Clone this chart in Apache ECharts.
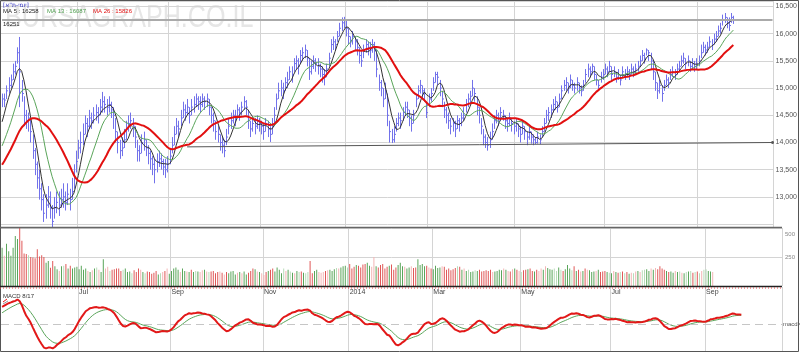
<!DOCTYPE html>
<html>
<head>
<meta charset="utf-8">
<script src="https://cdn.jsdelivr.net/npm/echarts@6/dist/echarts.min.js"></script>
<style>
  html, body { margin: 0; padding: 0; background: #fff; }
  #chart { width: 800px; height: 352px; }
</style>
</head>
<body>
<div id="chart"></div>
<script>
// number of day slots on the time axis (data stops before the right edge)
const SLOTS = 355;
const monthNames = ['Jul', 'Sep', 'Nov', '2014', 'Mar', 'May', 'Jul', 'Sep'];
const monthStarts = [35, 77, 119, 158, 196, 236, 277, 320];

// closes before the first visible bar, only used to warm up the indicators
const priorCloses = [13100,13050,13150,13200,13150,13250,13300,13200,13250,13350,13300,13400,13450,
  13500,13550,13600,13650,13600,13700,13800,13900,14050,14150,14350,14550];

const closes = [
  14800,14780,14950,15050,15150,15300,15400,15650,15300,14900,
  14500,14400,14450,14200,13850,13600,13350,13150,12950,12700,
  12850,13000,12800,12550,12800,12900,12850,12950,13000,12900,
  13050,12950,13100,13350,13650,13900,14000,14150,14350,14300,
  14450,14400,14500,14550,14500,14650,14750,14700,14650,14700,
  14600,14500,14200,14000,13850,13900,14050,14250,14350,14400,
  14300,14100,13850,13800,14000,14050,13900,13800,13700,13600,
  13500,13650,13700,13650,13550,13500,13600,13750,13950,14150,
  14300,14250,14450,14600,14550,14650,14500,14650,14700,14800,
  14750,14700,14800,14750,14800,14650,14500,14400,14200,14150,
  14000,13950,13850,14100,14300,14400,14500,14450,14600,14550,
  14650,14750,14650,14400,14250,14350,14300,14400,14350,14300,
  14200,14350,14250,14150,14300,14500,14800,14950,15000,14950,
  15100,15150,15300,15250,15450,15500,15400,15600,15650,15700,
  15550,15300,15400,15500,15450,15400,15350,15250,15200,15350,
  15550,15800,15850,15800,15950,16100,16200,16250,16100,15950,
  15850,15950,15850,15750,15600,15500,15700,15800,15750,15700,
  15800,15700,15350,15100,15000,14800,14950,14500,14200,14050,
  14150,14350,14450,14400,14550,14650,14600,14450,14350,14500,
  14800,14950,15050,14950,14900,14550,14800,14900,15100,15250,
  15200,15000,14800,14600,14500,14400,14300,14350,14250,14400,
  14350,14450,14500,14700,14800,14850,15000,14900,14650,14500,
  14300,14100,14000,13950,14050,14200,14400,14500,14450,14550,
  14500,14400,14350,14450,14350,14300,14350,14250,14150,14300,
  14200,14100,14200,14100,14050,14000,14100,14050,14200,14350,
  14500,14550,14600,14700,14750,14650,14800,14950,15050,15100,
  15000,15150,15050,15000,15100,15000,14950,15050,15250,15350,
  15300,15400,15250,15150,15050,15200,15250,15350,15300,15400,
  15250,15300,15200,15250,15150,15300,15250,15300,15250,15350,
  15300,15350,15400,15500,15600,15550,15700,15650,15500,15300,
  15100,14950,15050,14900,15050,15150,15100,15250,15300,15250,
  15350,15400,15500,15550,15450,15500,15400,15450,15400,15450,
  15500,15650,15750,15700,15750,15850,15800,15900,15950,16050,
  16100,16250,16300,16200,16150,16300,16260
];

const highs = [
  14900,14900,15050,15200,15250,15450,15500,15750,15940,15150,
  14850,14600,14550,14450,14150,13900,13650,13500,13250,13050,
  13050,13200,13100,12850,13000,13100,13100,13150,13250,13100,
  13250,13150,13350,13600,13850,14050,14200,14350,14500,14450,
  14600,14550,14650,14700,14650,14800,14930,14850,14800,14850,
  14750,14650,14450,14200,14050,14100,14250,14400,14500,14550,
  14450,14300,14050,13950,14150,14200,14050,13950,13850,13750,
  13700,13800,13850,13800,13700,13700,13750,13900,14100,14300,
  14450,14400,14600,14750,14700,14800,14650,14800,14850,14900,
  14850,14850,14900,14850,14900,14800,14650,14550,14400,14300,
  14150,14100,14050,14250,14450,14550,14600,14600,14700,14650,
  14750,14850,14780,14600,14400,14450,14450,14500,14450,14400,
  14350,14450,14400,14300,14450,14650,14900,15100,15150,15100,
  15200,15300,15400,15400,15550,15600,15550,15700,15750,15800,
  15700,15550,15500,15600,15550,15550,15450,15400,15350,15450,
  15650,15900,15950,15900,16050,16200,16300,16310,16250,16100,
  15950,16050,15950,15900,15750,15700,15800,15900,15850,15850,
  15900,15850,15700,15250,15150,15000,15100,14900,14400,14250,
  14300,14450,14550,14550,14650,14750,14750,14600,14500,14600,
  14900,15050,15150,15050,15000,14750,14900,15000,15200,15300,
  15300,15150,14950,14750,14650,14550,14450,14450,14400,14500,
  14450,14550,14650,14800,14900,14950,15150,15000,14850,14650,
  14450,14250,14150,14100,14200,14350,14500,14600,14550,14650,
  14600,14500,14450,14550,14450,14400,14450,14350,14300,14400,
  14300,14200,14300,14200,14150,14100,14200,14150,14300,14450,
  14600,14650,14700,14800,14850,14750,14900,15050,15150,15200,
  15100,15250,15150,15100,15200,15100,15050,15150,15350,15450,
  15400,15450,15400,15250,15150,15300,15350,15450,15400,15500,
  15400,15400,15300,15350,15250,15400,15350,15400,15350,15450,
  15400,15450,15500,15600,15700,15650,15730,15700,15650,15500,
  15300,15100,15150,15050,15150,15250,15200,15350,15400,15350,
  15450,15500,15600,15650,15550,15600,15500,15550,15500,15550,
  15600,15800,15850,15800,15850,15950,15900,16000,16050,16150,
  16200,16350,16380,16300,16300,16380,16330
];

const lows = [
  14650,14650,14800,14900,15000,15150,15250,15450,14650,14750,
  14300,14250,14200,14000,13700,13400,13150,12950,12750,12540,
  12600,12800,12600,12430,12600,12700,12650,12800,12800,12750,
  12850,12750,12950,13150,13450,13700,13800,13950,14150,14100,
  14250,14250,14350,14400,14350,14500,14550,14550,14500,14550,
  14450,14250,14000,13800,13700,13750,13900,14050,14200,14250,
  14100,13900,13650,13650,13800,13850,13750,13600,13500,13400,
  13250,13450,13550,13500,13400,13350,13450,13600,13800,13950,
  14150,14100,14300,14450,14400,14500,14350,14500,14550,14650,
  14600,14550,14650,14600,14650,14500,14350,14200,14050,14000,
  13850,13800,13730,13950,14150,14250,14350,14300,14450,14400,
  14500,14600,14500,14250,14100,14200,14150,14250,14200,14150,
  14050,14200,14100,14010,14150,14300,14600,14800,14850,14800,
  14950,15000,15150,15100,15300,15350,15250,15450,15500,15550,
  15400,15150,15250,15350,15300,15250,15200,15100,15050,15200,
  15400,15650,15700,15700,15850,15950,16050,16100,15950,15800,
  15750,15800,15700,15600,15450,15390,15550,15650,15600,15550,
  15650,15500,15200,14950,14850,14650,14800,14300,14000,13990,
  14000,14200,14300,14250,14400,14500,14450,14300,14200,14350,
  14650,14800,14900,14800,14750,14450,14650,14750,14950,15100,
  15050,14850,14650,14450,14350,14250,14150,14200,14100,14250,
  14200,14300,14400,14550,14650,14700,14850,14750,14500,14350,
  14150,13950,13900,13850,13900,14050,14250,14350,14300,14400,
  14400,14250,14200,14300,14200,14150,14200,14100,14000,14150,
  14050,13950,14050,13980,13950,13970,13980,13970,14100,14200,
  14350,14400,14450,14550,14600,14550,14650,14800,14950,14950,
  14900,15000,14950,14900,14950,14900,14850,14950,15100,15200,
  15200,15250,15150,15050,14950,15100,15150,15250,15200,15300,
  15150,15200,15100,15150,15050,15200,15150,15200,15150,15250,
  15200,15250,15300,15400,15500,15450,15600,15500,15350,15150,
  14950,14800,14900,14750,14950,15050,15000,15150,15200,15150,
  15250,15300,15400,15450,15350,15400,15300,15350,15300,15350,
  15400,15550,15650,15600,15650,15750,15700,15800,15850,15950,
  16000,16150,16200,16100,16050,16200,16180
];

// volume (last two weeks have no volume bars)
const volumes = [
  330,260,365,300,260,330,431,405,500,390,
  280,275,265,250,245,240,316,255,265,250,
  200,215,158,216,170,144,129,170,175,190,
  150,175,150,160,165,145,175,140,150,130,
  120,135,150,160,140,120,230,150,165,130,
  140,145,150,150,130,140,150,120,125,110,
  135,120,150,140,120,110,125,120,105,115,
  130,100,110,120,130,150,105,130,150,160,
  140,120,150,130,125,120,140,120,130,125,
  120,135,140,125,120,125,130,110,120,125,
  115,100,120,110,125,130,100,115,120,110,
  125,100,115,130,150,145,125,120,110,95,
  120,130,140,150,125,160,140,110,150,130,
  140,125,115,110,130,120,125,115,110,120,
  215,110,130,140,120,115,120,130,135,140,
  130,145,155,150,160,170,175,160,190,150,
  165,180,175,160,185,190,200,175,165,250,
  170,160,180,190,150,165,175,185,140,160,
  180,200,170,165,150,160,170,155,160,230,
  180,190,170,175,160,150,145,175,155,160,
  170,165,140,150,135,145,155,170,165,140,
  150,130,140,120,125,135,130,140,125,130,
  135,130,140,120,125,130,140,135,150,140,
  130,125,145,150,140,130,120,135,140,145,
  150,130,125,140,130,150,140,170,155,145,
  140,150,130,160,140,130,145,180,150,135,
  170,130,140,125,130,150,140,135,120,125,
  130,140,120,125,130,120,115,110,130,120,
  115,120,125,110,120,105,115,110,125,130,
  120,135,140,145,130,150,140,155,145,170,
  150,140,130,120,125,115,130,120,125,115,
  110,120,125,130,115,120,125,110,130,140,
  145,130,125,120
];

const maPeriods = [5, 13, 26];
const maLegend = [16258, 16087, 15826];
const levelValue = 16251;
const trendFrom = [85, 13920];
const trendTo = [354, 14000];
const macdFast = 8, macdSlow = 17, macdSignal = 9;

// ---- indicators ----
const allCloses = priorCloses.concat(closes);
const skip = priorCloses.length;

function movingAverage(arr, n) {
    const out = [];
    for (let i = 0; i < arr.length; i++) {
        const from = Math.max(0, i - n + 1);
        let s = 0;
        for (let j = from; j <= i; j++) s += arr[j];
        out.push(Math.round(s / (i - from + 1)));
    }
    return out;
}

function ema(arr, n) {
    const k = 2 / (n + 1);
    const out = [arr[0]];
    for (let i = 1; i < arr.length; i++) out.push(arr[i] * k + out[i - 1] * (1 - k));
    return out;
}

const maLines = maPeriods.map(p => movingAverage(allCloses, p).slice(skip));
const fast = ema(allCloses, macdFast), slow = ema(allCloses, macdSlow);
const macdAll = fast.map((v, i) => v - slow[i]);
const signalAll = ema(macdAll, macdSignal);
const macd = macdAll.slice(skip);
const signal = signalAll.slice(skip);
const macdMax = Math.max(...macd.map(Math.abs));

const categories = Array.from({ length: SLOTS }, (_, i) => String(i));

function volColor(i) {
    const prev = i === 0 ? priorCloses[priorCloses.length - 1] : closes[i - 1];
    const diff = closes[i] - prev;
    if (diff >= 0) return Math.abs(diff) < 60 ? '#b9dcb9' : '#5aa55a';
    return Math.abs(diff) < 60 ? '#f3b5b5' : '#e05858';
}

const isMonth = (idx) => monthStarts.indexOf(idx) >= 0;
const splitGrey = { show: true, interval: isMonth, lineStyle: { color: '#d4d4d4', width: 1 } };

function timeAxis(gridIndex, withLabels) {
    return {
        type: 'category', gridIndex: gridIndex, data: categories, boundaryGap: true,
        axisLine: { show: false }, axisTick: { show: false },
        splitLine: splitGrey,
        axisLabel: withLabels ? {
            show: true, interval: isMonth, align: 'left', margin: 3,
            fontSize: 7, color: '#444', fontFamily: 'Liberation Sans',
            formatter: (v, idx) => monthNames[monthStarts.indexOf(Number(v))] || ''
        } : { show: false }
    };
}

const chart = echarts.init(document.getElementById('chart'));
const font = 'Liberation Sans';

const option = {
    animation: false,
    backgroundColor: '#fff',
    grid: [
        { left: 1, right: 18, top: 1, height: 226 },
        { left: 1, right: 18, top: 228, height: 58 },
        { left: 1, right: 18, top: 287, height: 64 }
    ],
    xAxis: [timeAxis(0, false), timeAxis(1, true), timeAxis(2, false)],
    yAxis: [
        {
            type: 'value', gridIndex: 0, position: 'right', min: 12447, max: 16601, splitNumber: 8,
            axisLine: { show: false }, axisTick: { show: false },
            splitLine: { lineStyle: { color: '#d4d4d4' } },
            axisLabel: {
                margin: 2, fontSize: 7, color: '#555', fontFamily: font,
                formatter: v => (v % 500 === 0 && v >= 13000) ? v.toLocaleString('en-US') : ''
            }
        },
        {
            type: 'value', gridIndex: 1, position: 'right', min: 0, max: 500, interval: 250,
            axisLine: { show: false }, axisTick: { show: false },
            splitLine: { lineStyle: { color: '#d4d4d4' } },
            axisLabel: {
                margin: 3, fontSize: 6, color: '#888', fontFamily: font,
                formatter: v => v === 0 ? '' : (v === 500 ? '{t|500}' : String(v)),
                rich: { t: { fontSize: 6, color: '#888', padding: [12, 0, 0, 0] } }
            }
        },
        {
            type: 'value', gridIndex: 2, position: 'right',
            min: -macdMax * 1.1, max: macdMax * 1.51,
            axisLine: { show: false }, axisTick: { show: false },
            splitLine: { show: false }, axisLabel: { show: false }
        }
    ],
    series: [
        {
            name: 'price', type: 'custom', xAxisIndex: 0, yAxisIndex: 0, z: 3,
            data: closes.map((c, i) => [i, c, highs[i], lows[i]]),
            encode: { x: 0, y: [1, 2, 3] },
            renderItem: (params, api) => {
                const i = api.value(0);
                const pc = api.coord([i, api.value(1)]);
                const ph = api.coord([i, api.value(2)]);
                const pl = api.coord([i, api.value(3)]);
                const x = Math.round(pc[0]) + 0.5;
                const st = { stroke: '#7272ea', lineWidth: 1 };
                return {
                    type: 'group', children: [
                        { type: 'line', shape: { x1: x, y1: ph[1], x2: x, y2: pl[1] }, style: st },
                        { type: 'line', shape: { x1: x, y1: pc[1], x2: x + 1.5, y2: pc[1] }, style: st }
                    ]
                };
            },
            markLine: {
                silent: true, symbol: 'none', animation: false,
                label: { show: false },
                data: [
                    [{ xAxis: 0, yAxis: levelValue, lineStyle: { color: '#aaaaaa', width: 2, type: 'solid' } },
                     { xAxis: SLOTS - 1, yAxis: levelValue }],
                    [{ coord: trendFrom, lineStyle: { color: '#555', width: 1, type: 'solid' } },
                     { coord: trendTo, symbol: 'circle', symbolSize: 3 }]
                ]
            }
        },
        {
            name: 'MA 5', type: 'line', xAxisIndex: 0, yAxisIndex: 0, z: 4, data: maLines[0],
            showSymbol: false, lineStyle: { color: '#333', width: 1 }
        },
        {
            name: 'MA 13', type: 'line', xAxisIndex: 0, yAxisIndex: 0, z: 4, data: maLines[1],
            showSymbol: false, lineStyle: { color: '#5aa55a', width: 1 }
        },
        {
            name: 'MA 26', type: 'line', xAxisIndex: 0, yAxisIndex: 0, z: 5, data: maLines[2],
            showSymbol: false, lineStyle: { color: '#e21010', width: 2 }
        },
        {
            name: 'volume', type: 'bar', xAxisIndex: 1, yAxisIndex: 1, barWidth: 1,
            data: volumes.map((v, i) => ({ value: v, itemStyle: { color: volColor(i) } }))
        },
        {
            name: 'MACD', type: 'line', xAxisIndex: 2, yAxisIndex: 2, z: 5, data: macd,
            showSymbol: false, lineStyle: { color: '#e21818', width: 2 },
            markLine: {
                silent: true, symbol: 'none', animation: false,
                data: [{ yAxis: 0 }],
                lineStyle: { color: '#c6c6c6', type: [8, 5], width: 1 },
                label: { show: true, position: 'end', formatter: 'macd=0', fontSize: 6, color: '#555', distance: 1, fontFamily: font }
            }
        },
        {
            name: 'signal', type: 'line', xAxisIndex: 2, yAxisIndex: 2, z: 4, data: signal,
            showSymbol: false, lineStyle: { color: '#5aa55a', width: 1 }
        }
    ],
    graphic: [
        {
            type: 'text', x: 5, y: 3, z: 0, scaleX: 0.81, silent: true,
            style: { text: 'BURSAGRAPH.CO.IL', font: '31px "Liberation Sans"', fill: '#e6e6e6', verticalAlign: 'top' }
        },
        { type: 'text', x: 3, y: 2, z: 10, style: { text: '[יומי-ת"א]', font: '6px "DejaVu Sans"', fill: '#3030c0' } },
        { type: 'text', x: 3, y: 8, z: 10, style: { text: 'MA 5 : ' + maLegend[0], font: '6px "Liberation Sans"', fill: '#222' } },
        { type: 'text', x: 47, y: 8, z: 10, style: { text: 'MA 13 : ' + maLegend[1], font: '6px "Liberation Sans"', fill: '#4e9e4e' } },
        { type: 'text', x: 93, y: 8, z: 10, style: { text: 'MA 26 : ' + maLegend[2], font: '6px "Liberation Sans"', fill: '#e21010' } },
        { type: 'text', x: 3, y: 21, z: 10, style: { text: String(levelValue), font: '6px "Liberation Sans"', fill: '#222' } },
        { type: 'text', x: 3, y: 293, z: 10, style: { text: 'MACD 8/17', font: '6px "Liberation Sans"', fill: '#333' } },
        { type: 'line', z: 10, shape: { x1: 3, y1: 302, x2: 7, y2: 299 }, style: { stroke: '#e21818', lineWidth: 1 } },
        { type: 'line', z: 10, shape: { x1: 3, y1: 304, x2: 8, y2: 301 }, style: { stroke: '#999', lineWidth: 1 } },
        // panel frames
        { type: 'rect', z: 10, shape: { x: 0.5, y: 0.5, width: 798, height: 351 }, style: { fill: 'none', stroke: '#555', lineWidth: 1 } },
        { type: 'line', z: 10, shape: { x1: 0, y1: 227.5, x2: 782, y2: 227.5 }, style: { stroke: '#666', lineWidth: 1.5 } },
        { type: 'line', z: 10, shape: { x1: 0, y1: 286.5, x2: 782, y2: 286.5 }, style: { stroke: '#222', lineWidth: 1.5 } },
        { type: 'line', z: 10, shape: { x1: 0, y1: 288, x2: 782, y2: 288 }, style: { stroke: '#e04040', lineWidth: 1, lineDash: [1, 2] } }
    ]
};

chart.setOption(option);
</script>
</body>
</html>
